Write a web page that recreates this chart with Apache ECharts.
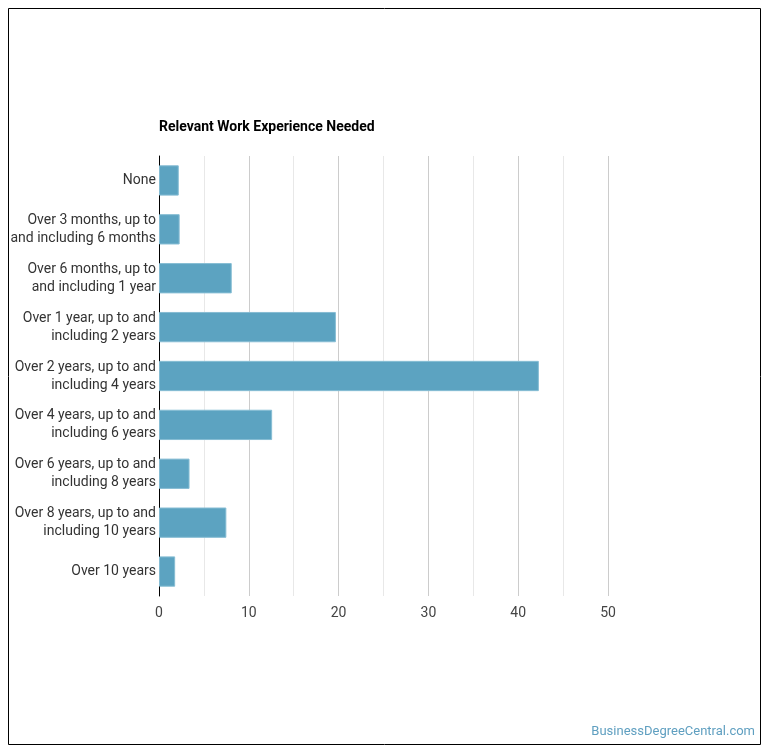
<!DOCTYPE html>
<html><head><meta charset="utf-8">
<script src="https://cdn.jsdelivr.net/npm/echarts@6/dist/echarts.min.js"></script>
<style>html,body{margin:0;padding:0;background:#fff}#c{width:770px;height:754px}</style>
</head><body><div id="c"></div>
<script>
const title = 'Relevant Work Experience Needed';
const categories = [
  'None',
  'Over 3 months, up to\nand including 6 months',
  'Over 6 months, up to\nand including 1 year',
  'Over 1 year, up to and\nincluding 2 years',
  'Over 2 years, up to and\nincluding 4 years',
  'Over 4 years, up to and\nincluding 6 years',
  'Over 6 years, up to and\nincluding 8 years',
  'Over 8 years, up to and\nincluding 10 years',
  'Over 10 years'
];
const values = [2.2, 2.3, 8.1, 19.7, 42.3, 12.6, 3.4, 7.5, 1.8];
const xTicks = [0, 10, 20, 30, 40, 50];
const watermark = 'BusinessDegreeCentral.com';

const chart = echarts.init(document.getElementById('c'), null, {renderer: 'canvas'});
chart.setOption({
  animation: false,
  textStyle: {fontFamily: 'Roboto'},
  title: {text: title, left: 154, top: 115, textStyle: {fontFamily: 'Roboto', fontSize: 14, fontWeight: 'bold', color: '#000'}},
  graphic: [
    {type: 'rect', shape: {x: 8.5, y: 8.5, width: 752, height: 736}, style: {fill: 'none', stroke: '#000', lineWidth: 1}},
    {type: 'text', right: 15, top: 725, style: {text: watermark, font: '13px Roboto', fill: '#5f9fc0'}}
  ],
  grid: {left: 159, right: 162, top: 156, bottom: 158, containLabel: false},
  xAxis: {
    type: 'value', min: xTicks[0], max: xTicks[xTicks.length - 1], interval: 10,
    axisLine: {show: false}, axisTick: {show: false},
    axisLabel: {color: '#444', fontSize: 14, margin: 10, fontFamily: 'Roboto'},
    splitLine: {show: true, lineStyle: {color: '#cccccc', width: 1}},
    minorTick: {show: false, splitNumber: 2},
    minorSplitLine: {show: true, lineStyle: {color: '#e8e8e8', width: 1}}
  },
  yAxis: {
    type: 'category', data: categories, inverse: true,
    axisLine: {show: true, lineStyle: {color: '#000', width: 1}},
    axisTick: {show: false},
    axisLabel: {color: '#333', fontSize: 14, lineHeight: 18, margin: 3, padding: [3, 0, 0, 0], fontFamily: 'Roboto', align: 'right'}
  },
  series: [{
    type: 'bar', data: values, barCategoryGap: '38%',
    itemStyle: {color: '#5ca3c1', borderColor: '#86bdd4', borderWidth: 1}
  }]
});
</script></body></html>
